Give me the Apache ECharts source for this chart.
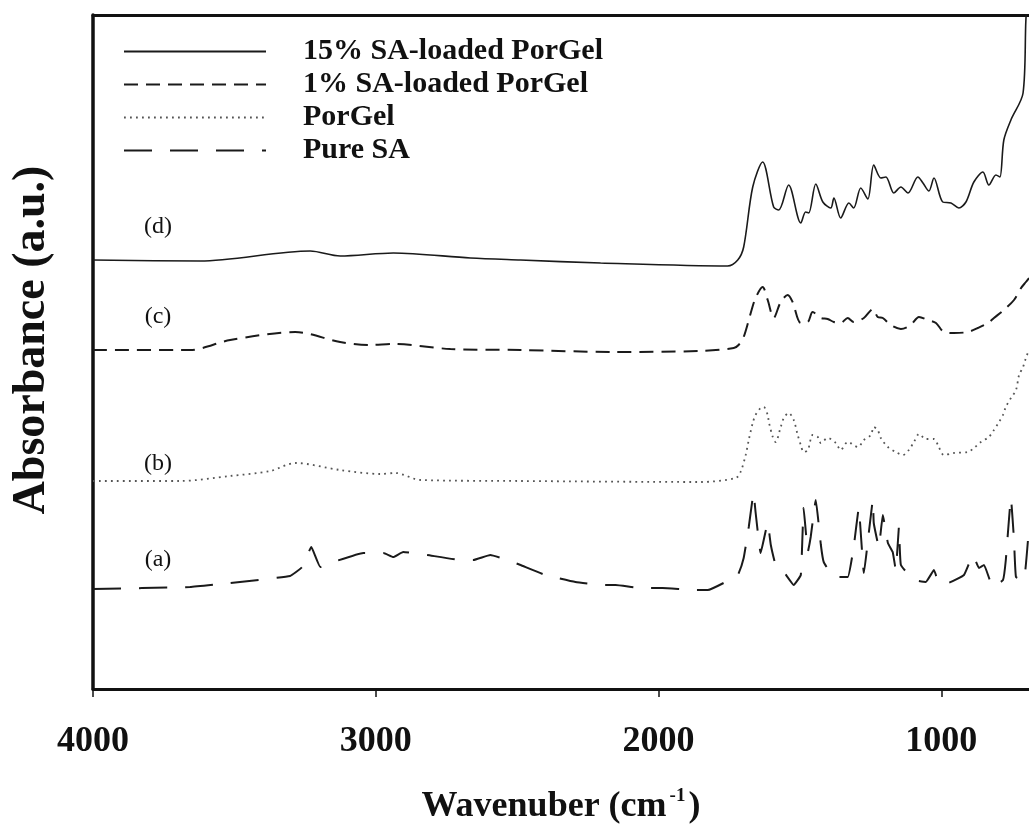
<!DOCTYPE html>
<html>
<head>
<meta charset="utf-8">
<script src="https://cdn.jsdelivr.net/npm/echarts@6/dist/echarts.min.js"></script>
<style>
  html, body { margin: 0; padding: 0; background: #fff; }
  #chart { width: 1029px; height: 829px; }
</style>
</head>
<body>
<div id="chart"></div>
<script>
// wavenumber (cm-1) and absorbance (a.u., stacked offsets as drawn)
const gel15Wn = [4000, 3621, 3232, 3126, 2938, 2665, 2488, 2205, 1756, 1720, 1699, 1667, 1632, 1593, 1575, 1540, 1497, 1480, 1469, 1444, 1419, 1391, 1380, 1356, 1327, 1310, 1285, 1260, 1239, 1214, 1196, 1168, 1143, 1118, 1083, 1065, 1044, 1026, 995, 966, 938, 913, 885, 853, 832, 807, 793, 779, 754, 711, 701, 690]
const gel15Abs = [429, 428, 438, 433, 436, 431, 429, 426, 423, 429, 442, 502, 527, 482, 479, 504, 466, 477, 476, 505, 487, 481, 491, 471, 486, 481, 501, 490, 524, 511, 512, 496, 502, 496, 512, 506, 498, 511, 487, 486, 481, 487, 507, 517, 504, 514, 512, 549, 569, 596, 669, 720]

const gel1Wn = [4000, 3657, 3515, 3285, 3126, 3019, 2938, 2736, 2488, 2159, 1851, 1734, 1717, 1699, 1674, 1657, 1632, 1614, 1593, 1568, 1543, 1526, 1497, 1472, 1455, 1426, 1402, 1380, 1356, 1331, 1310, 1274, 1242, 1225, 1207, 1179, 1143, 1108, 1079, 1048, 1019, 991, 956, 906, 871, 835, 814, 779, 743, 718, 701, 690]
const gel1Abs = [339, 339, 349, 357, 347, 344, 345, 340, 339, 337, 338, 341, 344, 352, 376, 391, 402, 389, 371, 387, 394, 387, 366, 367, 377, 371, 370, 367, 366, 371, 367, 371, 380, 372, 371, 364, 360, 364, 372, 369, 366, 357, 356, 357, 361, 366, 371, 379, 389, 401, 407, 411]

const porGelWn = [4000, 3692, 3515, 3373, 3285, 3126, 2984, 2931, 2842, 2488, 1851, 1727, 1710, 1692, 1681, 1667, 1657, 1639, 1628, 1614, 1610, 1596, 1586, 1568, 1557, 1540, 1522, 1508, 1497, 1487, 1472, 1455, 1437, 1426, 1402, 1373, 1356, 1331, 1295, 1274, 1249, 1239, 1225, 1214, 1189, 1161, 1136, 1115, 1097, 1079, 1055, 1026, 1009, 991, 956, 906, 885, 860, 832, 814, 796, 782, 772, 754, 736, 725, 711, 701, 690]
const porGelAbs = [208, 208, 213, 218, 226, 219, 215, 216, 209, 208, 207, 211, 217, 234, 249, 266, 274, 281, 282, 274, 267, 252, 247, 262, 271, 276, 269, 254, 244, 237, 239, 254, 252, 246, 251, 246, 239, 247, 242, 249, 254, 262, 259, 251, 242, 237, 234, 239, 247, 255, 250, 250, 242, 234, 236, 237, 241, 247, 252, 259, 267, 274, 282, 291, 299, 314, 322, 331, 339]

const pureSaWn = [4000, 3657, 3515, 3303, 3260, 3228, 3196, 3150, 3044, 2973, 2938, 2903, 2818, 2701, 2655, 2595, 2534, 2488, 2400, 2294, 2205, 2152, 2064, 1986, 1876, 1826, 1720, 1699, 1681, 1664, 1657, 1639, 1614, 1603, 1586, 1557, 1522, 1497, 1487, 1472, 1462, 1444, 1426, 1416, 1380, 1331, 1310, 1292, 1274, 1242, 1239, 1221, 1207, 1189, 1172, 1161, 1150, 1143, 1097, 1055, 1026, 1009, 977, 920, 888, 867, 849, 818, 782, 772, 754, 743, 736, 708, 690]
const pureSaAbs = [100, 102, 106, 113, 122, 142, 122, 127, 136, 136, 132, 137, 134, 129, 129, 134, 129, 124, 114, 107, 104, 104, 101, 101, 99, 99, 114, 131, 162, 196, 177, 136, 166, 144, 124, 117, 104, 114, 181, 137, 152, 189, 144, 127, 112, 112, 142, 181, 116, 189, 166, 142, 174, 146, 137, 119, 162, 124, 109, 107, 119, 106, 106, 114, 134, 121, 124, 102, 109, 129, 191, 149, 112, 109, 162]

const seriesNames = ['15% SA-loaded PorGel', '1% SA-loaded PorGel', 'PorGel', 'Pure SA']
const curveTags = ['(d)', '(c)', '(b)', '(a)']
const xTicks = [1000, 2000, 3000, 4000]

const serif = 'Liberation Serif, Times New Roman, serif'

function zip(xs, ys) {
  return xs.map((x, i) => [x, ys[i]])
}

const styles = [
  { color: '#1a1a1a', width: 1.6, type: 'solid', smooth: 0.3 },
  { color: '#1a1a1a', width: 2, type: [14, 8], smooth: 0.3 },
  { color: '#555', width: 1.8, type: [1.8, 4.2], smooth: 0.3 },
  { color: '#1a1a1a', width: 2, type: [28, 18], smooth: 0.1 },
]
const datasets = [zip(gel15Wn, gel15Abs), zip(gel1Wn, gel1Abs), zip(porGelWn, porGelAbs), zip(pureSaWn, pureSaAbs)]

const chart = echarts.init(document.getElementById('chart'))

const tagY = [227, 317, 464, 560]

chart.setOption({
  animation: false,
  backgroundColor: '#fff',
  grid: { left: 93, right: 0, top: 15, bottom: 140, outerBoundsMode: 'none', containLabel: false },
  legend: {
    orient: 'vertical',
    left: 123,
    top: 35,
    padding: 0,
    itemWidth: 142,
    itemHeight: 14,
    itemGap: 0,
    selectedMode: false,
    data: seriesNames,
    itemStyle: { opacity: 0 },
    textStyle: {
      fontFamily: serif,
      fontWeight: 'bold',
      fontSize: 30,
      color: '#111',
      lineHeight: 33,
      padding: [0, 0, 0, 32],
    },
  },
  xAxis: [
    {
      type: 'value',
      inverse: true,
      min: 690,
      max: 4000,
      name: '{t|Wavenuber (cm}{s|-1}{t|)}',
      nameLocation: 'middle',
      nameGap: 98,
      nameTextStyle: {
        rich: {
          t: { fontFamily: serif, fontWeight: 'bold', fontSize: 36, color: '#111', lineHeight: 40 },
          s: { fontFamily: serif, fontWeight: 'bold', fontSize: 19, color: '#111', lineHeight: 40, verticalAlign: 'top', padding: [0, 3, 16, 3] },
        },
      },
      axisLine: { show: true, lineStyle: { color: '#111', width: 3 } },
      axisTick: { show: true, length: 8, inside: false, customValues: xTicks, lineStyle: { color: '#111', width: 1.5 } },
      axisLabel: {
        customValues: xTicks,
        margin: 35,
        formatter: (v) => String(v),
        fontFamily: serif,
        fontWeight: 'bold',
        fontSize: 36,
        color: '#111',
      },
      splitLine: { show: false },
    },
    {
      type: 'value',
      position: 'top',
      inverse: true,
      min: 690,
      max: 4000,
      axisLine: { show: true, lineStyle: { color: '#111', width: 3 } },
      axisTick: { show: false },
      axisLabel: { show: false },
      splitLine: { show: false },
    },
  ],
  yAxis: {
    type: 'value',
    min: 0,
    max: 674,
    name: 'Absorbance (a.u.)',
    nameLocation: 'middle',
    nameRotate: 90,
    nameGap: 38,
    nameTextStyle: { fontFamily: serif, fontWeight: 'bold', fontSize: 46, color: '#111', padding: [0, 0, 0, 24] },
    axisLine: { show: true, lineStyle: { color: '#111', width: 3.5 } },
    axisTick: { show: false },
    axisLabel: { show: false },
    splitLine: { show: false },
  },
  graphic: curveTags.map((t, i) => ({
    type: 'text',
    x: 158,
    y: tagY[i],
    style: {
      text: t,
      fill: '#111',
      font: '24px ' + serif,
      align: 'center',
      verticalAlign: 'middle',
    },
  })),
  series: seriesNames.map((name, i) => ({
    name,
    type: 'line',
    data: datasets[i],
    symbol: 'none',
    smooth: styles[i].smooth,
    clip: true,
    lineStyle: { color: styles[i].color, width: styles[i].width, type: styles[i].type },
    itemStyle: { color: styles[i].color },
  })),
})
</script>
</body>
</html>
